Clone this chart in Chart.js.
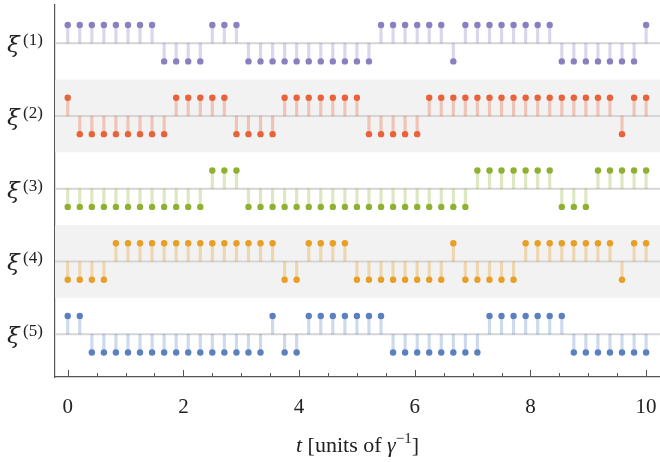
<!DOCTYPE html>
<html>
<head>
<meta charset="utf-8">
<script src="https://cdn.jsdelivr.net/npm/chart.js@4.4.1/dist/chart.umd.min.js"></script>
<style>
  html, body { margin: 0; padding: 0; background: #fff; }
</style>
</head>
<body>
<canvas id="chart" width="660" height="462"></canvas>
<script>
// sample times (49 samples between 0 and 10)
const times = [0, 0.208, 0.417, 0.625, 0.833, 1.042, 1.25, 1.458, 1.667, 1.875,
  2.083, 2.292, 2.5, 2.708, 2.917, 3.125, 3.333, 3.542, 3.75, 3.958,
  4.167, 4.375, 4.583, 4.792, 5, 5.208, 5.417, 5.625, 5.833, 6.042,
  6.25, 6.458, 6.667, 6.875, 7.083, 7.292, 7.5, 7.708, 7.917, 8.125,
  8.333, 8.542, 8.75, 8.958, 9.167, 9.375, 9.583, 9.792, 10];

// telegraph signals, one per row
const xi1 = [1,1,1,1,1,1,1,1, -1,-1,-1,-1, 1,1,1, -1,-1,-1,-1,-1,-1,-1,-1,-1,-1,-1,
  1,1,1,1,1,1, -1, 1,1,1,1,1,1,1,1, -1,-1,-1,-1,-1,-1,-1, 1];
const xi2 = [1, -1,-1,-1,-1,-1,-1,-1,-1, 1,1,1,1,1, -1,-1,-1,-1, 1,1,1,1,1,1,1,
  -1,-1,-1,-1,-1, 1,1,1,1,1,1,1,1,1,1,1,1,1,1,1,1, -1, 1,1];
const xi3 = [-1,-1,-1,-1,-1,-1,-1,-1,-1,-1,-1,-1, 1,1,1,
  -1,-1,-1,-1,-1,-1,-1,-1,-1,-1,-1,-1,-1,-1,-1,-1,-1,-1,-1,
  1,1,1,1,1,1,1, -1,-1,-1, 1,1,1,1,1];
const xi4 = [-1,-1,-1,-1, 1,1,1,1,1,1,1,1,1,1,1,1,1,1, -1,-1, 1,1,1,1,
  -1,-1,-1,-1,-1,-1,-1,-1, 1, -1,-1,-1,-1,-1, 1,1,1,1,1,1,1,1, -1, 1,1];
const xi5 = [1,1, -1,-1,-1,-1,-1,-1,-1,-1,-1,-1,-1,-1,-1,-1,-1, 1, -1,-1,
  1,1,1,1,1,1,1, -1,-1,-1,-1,-1,-1,-1,-1, 1,1,1,1,1,1,1, -1,-1,-1,-1,-1,-1,-1];

const series = [xi1, xi2, xi3, xi4, xi5];
const rowLabels = ['(1)', '(2)', '(3)', '(4)', '(5)'];
const rowOffsets = [16, 12, 8, 4, 0];
const xTicks = [0, 2, 4, 6, 8, 10];

const dotColors = ['#8b7fc0', '#e8623a', '#8fb132', '#e79f26', '#5b80bf'];
const stemColors = ['rgba(139,127,192,0.32)', 'rgba(232,98,58,0.32)', 'rgba(143,177,50,0.3)',
  'rgba(231,159,38,0.32)', 'rgba(91,128,191,0.3)'];

const X_MIN = -0.22, X_MAX = 10.24;

const datasets = [];
series.forEach((vals, r) => {
  const off = rowOffsets[r];
  datasets.push({
    type: 'line',
    data: [{ x: X_MIN, y: off }, { x: X_MAX, y: off }],
    borderColor: '#d5d5d5',
    borderWidth: 2,
    pointRadius: 0,
    order: 3
  });
  datasets.push({
    type: 'bar',
    data: times.map((t, i) => ({ x: t, y: [off, off + vals[i]] })),
    backgroundColor: stemColors[r],
    barThickness: 2.5,
    grouped: false,
    order: 2
  });
  datasets.push({
    type: 'scatter',
    data: times.map((t, i) => ({ x: t, y: off + vals[i] })),
    backgroundColor: dotColors[r],
    borderWidth: 0,
    pointRadius: 3.2,
    order: 1
  });
});

const decorations = {
  id: 'decorations',
  beforeDatasetsDraw(chart) {
    const { ctx, chartArea, scales } = chart;
    ctx.save();
    ctx.fillStyle = '#f2f2f2';
    [1, 3].forEach(r => {
      const top = scales.y.getPixelForValue(rowOffsets[r] + 2);
      const bot = scales.y.getPixelForValue(rowOffsets[r] - 2);
      ctx.fillRect(chartArea.left, top, chartArea.right - chartArea.left, bot - top);
    });
    ctx.restore();
  },
  afterDraw(chart) {
    const { ctx, chartArea, scales } = chart;
    ctx.save();
    // inward ticks on the time axis
    ctx.strokeStyle = '#555';
    ctx.lineWidth = 1;
    for (let v = 0; v <= 10.001; v += 0.5) {
      const px = Math.round(scales.x.getPixelForValue(v)) + 0.5;
      const len = (Math.abs(v % 2) < 0.01) ? 7 : 4;
      ctx.beginPath();
      ctx.moveTo(px, chartArea.bottom);
      ctx.lineTo(px, chartArea.bottom - len);
      ctx.stroke();
    }
    // row labels
    ctx.fillStyle = '#222';
    ctx.textBaseline = 'alphabetic';
    rowLabels.forEach((lab, r) => {
      const py = scales.y.getPixelForValue(rowOffsets[r]);
      ctx.font = 'italic 23px "DejaVu Serif"';
      ctx.textAlign = 'left';
      ctx.fillText('ξ', 7, py + 9);
      ctx.font = '17px "Liberation Serif"';
      ctx.fillText(lab, 23, py + 2);
    });
    // axis title
    const parts = [
      { t: 't', f: 'italic 22px "Liberation Serif"', dy: 0 },
      { t: ' [units of ', f: '22px "Liberation Serif"', dy: 0 },
      { t: 'γ', f: 'italic 22px "Liberation Serif"', dy: 0 },
      { t: '−1', f: '15px "Liberation Serif"', dy: -9 },
      { t: ']', f: '22px "Liberation Serif"', dy: 0 }
    ];
    let w = 0;
    parts.forEach(p => { ctx.font = p.f; p.w = ctx.measureText(p.t).width; w += p.w; });
    let x = (chartArea.left + chartArea.right) / 2 - w / 2;
    parts.forEach(p => {
      ctx.font = p.f;
      ctx.fillText(p.t, x, 452 + p.dy);
      x += p.w;
    });
    ctx.restore();
  }
};

new Chart(document.getElementById('chart'), {
  type: 'scatter',
  data: { datasets: datasets },
  options: {
    responsive: false,
    animation: false,
    devicePixelRatio: 1,
    layout: { autoPadding: false, padding: { top: 5, right: 0, left: 0, bottom: 0 } },
    plugins: { legend: { display: false }, tooltip: { enabled: false } },
    scales: {
      x: {
        type: 'linear',
        min: X_MIN,
        max: X_MAX,
        offset: false,
        grid: { display: false, drawTicks: false },
        border: { display: true, color: '#555', width: 1.2 },
        afterBuildTicks: s => { s.ticks = xTicks.map(v => ({ value: v })); },
        afterFit: s => { s.height = 85; s.paddingLeft = 0; s.paddingRight = 0; },
        ticks: {
          font: { family: 'Liberation Serif', size: 21 },
          color: '#222',
          padding: 18,
          maxRotation: 0,
          autoSkip: false
        }
      },
      y: {
        type: 'linear',
        min: -2.35,
        max: 18.1,
        grid: { display: false, drawTicks: false },
        border: { display: true, color: '#555', width: 1.2 },
        ticks: { display: false },
        afterFit: s => { s.width = 55; s.paddingTop = 0; s.paddingBottom = 0; }
      }
    }
  },
  plugins: [decorations]
});
</script>
</body>
</html>
